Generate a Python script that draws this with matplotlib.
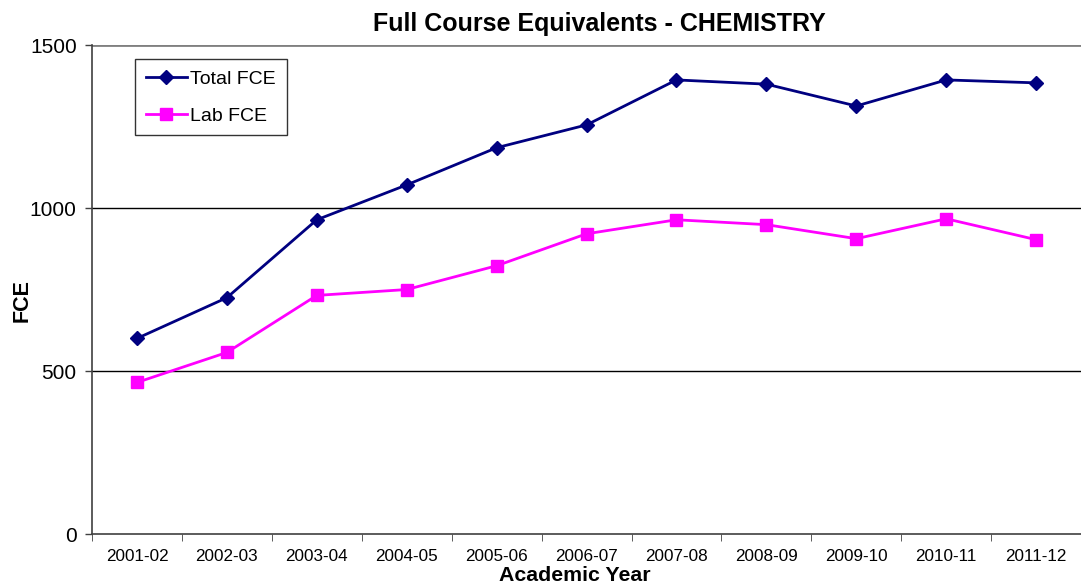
import matplotlib.pyplot as plt
import numpy as np

plt.rcParams['font.family'] = ['Liberation Sans', 'DejaVu Sans']

years = ['2001-02', '2002-03', '2003-04', '2004-05', '2005-06', '2006-07',
         '2007-08', '2008-09', '2009-10', '2010-11', '2011-12']
total_fce = [600, 725, 964, 1071, 1185, 1255, 1393, 1380, 1313, 1393, 1384]
lab_fce = [465, 557, 732, 750, 823, 921, 964, 949, 906, 967, 903]

fig = plt.figure(figsize=(10.81, 5.88), dpi=100)
ax = fig.add_axes([0.0851, 0.0918, 0.915, 0.8316])

x = np.arange(len(years))
ax.plot(x, total_fce, color='#000080', lw=2, marker='D', ms=7, label='Total FCE')
ax.plot(x, lab_fce, color='#FF00FF', lw=2, marker='s', ms=8, label='Lab FCE')

ax.set_xlim(-0.5, len(years) - 0.5)
ax.set_ylim(0, 1500)
ax.set_yticks([0, 500, 1000, 1500])
ax.tick_params(axis='y', labelsize=15, length=5, direction='out', width=1, color='#404040', pad=6)
ax.set_xticks(x)
ax.set_xticklabels(years, fontsize=12.3)
ax.tick_params(axis='x', which='major', length=0, pad=11)
ax.set_xticks(np.arange(-0.5, len(years)), minor=True)
ax.tick_params(axis='x', which='minor', length=5, color='#404040')

ax.axhline(1000, color='black', lw=1, zorder=0)
ax.axhline(500, color='black', lw=1, zorder=0)
ax.axhline(1500, color='#808080', lw=2, zorder=0)

for s in ['top', 'right']:
    ax.spines[s].set_visible(False)
ax.spines['left'].set_color('#404040')
ax.spines['bottom'].set_color('#404040')
ax.spines['left'].set_linewidth(1.2)
ax.spines['bottom'].set_linewidth(1.2)

ax.set_title('Full Course Equivalents - CHEMISTRY', fontsize=18, fontweight='bold',
             x=0.5126, pad=10)
ax.set_xlabel('Academic Year', fontsize=15.3, fontweight='bold')
ax.xaxis.set_label_coords(0.488, -0.066)
ax.set_ylabel('FCE', fontsize=15.5, fontweight='bold')
ax.yaxis.set_label_coords(-0.060, 0.478)

leg = ax.legend(loc='upper left', bbox_to_anchor=(0.0435, 0.971), borderaxespad=0,
                fontsize=14, frameon=True, fancybox=False, edgecolor='black',
                borderpad=0.55, labelspacing=1.0, handlelength=2.1, handletextpad=0.2)
leg.get_frame().set_linewidth(1)

fig.savefig('out.png', dpi=100)
